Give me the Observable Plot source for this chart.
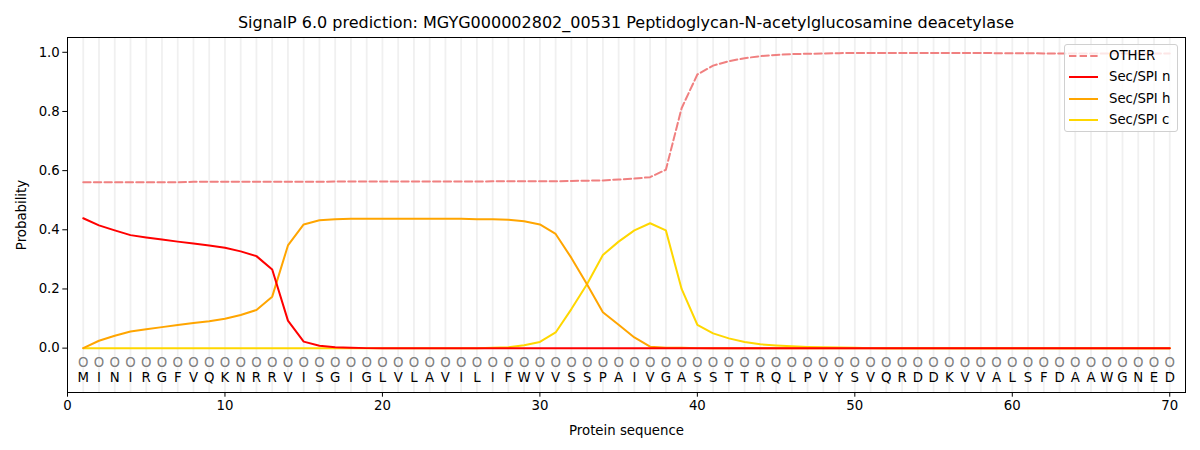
<!DOCTYPE html>
<html>
<head>
<meta charset="utf-8">
<script src="https://cdn.jsdelivr.net/npm/d3@7"></script>
<script src="https://cdn.jsdelivr.net/npm/@observablehq/plot@0.6"></script>
<style>
  body { margin: 0; background: #fff; font-family: "DejaVu Sans", sans-serif; }
  #wrap { position: relative; width: 1200px; height: 450px; overflow: hidden; }
  #title { position: absolute; z-index: 2; left: 67px; width: 1118px; top: 12px; height: 24px; line-height: 22px; text-align: center; font-size: 16px; color: #000; white-space: nowrap; }
  #chart { position: absolute; z-index: 1; left: 0; top: 30px; }
  #legend { position: absolute; z-index: 3; left: 1064px; top: 44px; width: 114px; height: 88px; border: 1px solid #d0d0d0; border-radius: 3px; background: rgba(255,255,255,0.8); box-sizing: border-box; font-size: 13.3px; }
  .sw { position: absolute; left: 4px; width: 29px; height: 4px; }
  .lab { position: absolute; left: 44px; line-height: 16px; white-space: nowrap; color: #000; }
</style>
</head>
<body>
<div id="wrap">
  <div id="chart"></div>
  <div id="title">SignalP 6.0 prediction: MGYG000002802_00531 Peptidoglycan-N-acetylglucosamine deacetylase</div>
  <div id="legend"></div>
</div>
<script>
const sequence = "MINIRGFVQKNRRVISGIGLVLAVILIFWVVSSPAIVGASSTTRQLPVYSVQRDDKVVALSFDAAWGNED".split("");
const labels = "OOOOOOOOOOOOOOOOOOOOOOOOOOOOOOOOOOOOOOOOOOOOOOOOOOOOOOOOOOOOOOOOOOOOOO".split("");
const positions = sequence.map((_, i) => i + 1);

const other = [
  0.561, 0.561, 0.561, 0.561, 0.561, 0.561, 0.561, 0.562, 0.562, 0.562,
  0.562, 0.562, 0.562, 0.562, 0.562, 0.562, 0.563, 0.563, 0.563, 0.563,
  0.563, 0.563, 0.563, 0.563, 0.563, 0.563, 0.564, 0.564, 0.564, 0.564,
  0.564, 0.565, 0.566, 0.567, 0.570, 0.573, 0.578, 0.603, 0.811, 0.925,
  0.955, 0.970, 0.980, 0.987, 0.991, 0.994, 0.995, 0.996, 0.997, 0.998,
  0.998, 0.998, 0.998, 0.998, 0.998, 0.998, 0.998, 0.998, 0.997, 0.997,
  0.997, 0.996, 0.996, 0.996, 0.996, 0.996, 0.996, 0.996, 0.996, 0.996
];
const secN = [
  0.439, 0.415, 0.398, 0.382, 0.374, 0.367, 0.360, 0.354, 0.347, 0.339,
  0.327, 0.311, 0.266, 0.093, 0.022, 0.008, 0.003, 0.001, 0, 0,
  0, 0, 0, 0, 0, 0, 0, 0, 0, 0,
  0, 0, 0, 0, 0, 0, 0, 0, 0, 0,
  0, 0, 0, 0, 0, 0, 0, 0, 0, 0,
  0, 0, 0, 0, 0, 0, 0, 0, 0, 0,
  0, 0, 0, 0, 0, 0, 0, 0, 0, 0
];
const secH = [
  0.000, 0.025, 0.042, 0.056, 0.064, 0.071, 0.078, 0.085, 0.091, 0.099,
  0.112, 0.129, 0.174, 0.347, 0.418, 0.432, 0.436, 0.437, 0.437, 0.437,
  0.437, 0.437, 0.437, 0.437, 0.437, 0.436, 0.436, 0.434, 0.429, 0.418,
  0.386, 0.305, 0.215, 0.121, 0.079, 0.036, 0.005, 0.001, 0.001, 0,
  0, 0, 0, 0, 0, 0, 0, 0, 0, 0,
  0, 0, 0, 0, 0, 0, 0, 0, 0, 0,
  0, 0, 0, 0, 0, 0, 0, 0, 0, 0
];
const secC = [
  0, 0, 0, 0, 0, 0, 0, 0, 0, 0,
  0, 0, 0, 0, 0, 0, 0, 0, 0, 0,
  0, 0, 0, 0, 0, 0, 0.001, 0.003, 0.010, 0.021,
  0.053, 0.132, 0.217, 0.315, 0.360, 0.398, 0.422, 0.398, 0.200, 0.079,
  0.050, 0.033, 0.021, 0.013, 0.009, 0.006, 0.004, 0.003, 0.002, 0.001,
  0, 0, 0, 0, 0, 0, 0, 0, 0, 0,
  0, 0, 0, 0, 0, 0, 0, 0, 0, 0
];
const xTicks = [0, 10, 20, 30, 40, 50, 60, 70];
const yTicks = [0, 0.2, 0.4, 0.6, 0.8, 1.0];

const seriesNames = ["OTHER", "Sec/SPI n", "Sec/SPI h", "Sec/SPI c"];
const seriesColors = ["#F08080", "#FF0000", "#FFA500", "#FFD700"];
const seriesValues = [other, secN, secH, secC];

const rows = seriesValues.map((vals, s) => vals.map((v, i) => ({pos: positions[i], prob: v, series: seriesNames[s]})));
const residues = sequence.map((aa, i) => ({pos: positions[i], aa, label: labels[i]}));

const lineMark = (s) => Plot.line(rows[s], {
  x: "pos", y: "prob", stroke: seriesColors[s], strokeWidth: 2,
  strokeDasharray: s === 0 ? "7.4,3.2" : null, curve: "linear"
});

const chart = Plot.plot({
  width: 1200,
  height: 420,
  marginLeft: 67,
  marginRight: 15,
  marginTop: 7,
  marginBottom: 58,
  style: {fontFamily: "DejaVu Sans", fontSize: "13.3px", color: "#000", background: "transparent"},
  x: {domain: [0, 71]},
  y: {domain: [-0.15, 1.05]},
  marks: [
    Plot.ruleX(positions, {x: d => d, stroke: "#f0f0f0", strokeWidth: 1.8}),
    Plot.text(residues, {x: "pos", y: () => -0.05, text: "label", fontSize: 13.3, fill: "#808080"}),
    Plot.text(residues, {x: "pos", y: () => -0.1, text: "aa", fontSize: 13.3, fill: "#000"}),
    lineMark(3), lineMark(2), lineMark(1), lineMark(0),
    Plot.axisX({ticks: xTicks, tickSize: 4.7, tickPadding: 3, tickFormat: d3.format("d"),
      label: "Protein sequence", labelAnchor: "center", labelArrow: "none", labelOffset: 42}),
    Plot.axisY({ticks: yTicks, tickSize: 4.7, tickPadding: 3, tickFormat: d3.format(".1f"),
      label: "Probability", labelAnchor: "center", labelArrow: "none", labelOffset: 51}),
    Plot.frame({stroke: "#000", strokeWidth: 1})
  ]
});
document.getElementById("chart").appendChild(chart);

const legend = document.getElementById("legend");
seriesNames.forEach((name, s) => {
  const cy = 11 + s * 21.3;
  const sw = document.createElementNS("http://www.w3.org/2000/svg", "svg");
  sw.setAttribute("class", "sw");
  sw.setAttribute("width", "29");
  sw.setAttribute("height", "4");
  sw.style.top = (cy - 2) + "px";
  sw.innerHTML = `<line x1="0" x2="29" y1="2" y2="2" stroke="${seriesColors[s]}" stroke-width="2" ${s === 0 ? 'stroke-dasharray="7.4,3.2"' : ''}/>`;
  legend.appendChild(sw);
  const lab = document.createElement("div");
  lab.className = "lab";
  lab.style.top = (cy - 8) + "px";
  lab.textContent = name;
  legend.appendChild(lab);
});
</script>
</body>
</html>
